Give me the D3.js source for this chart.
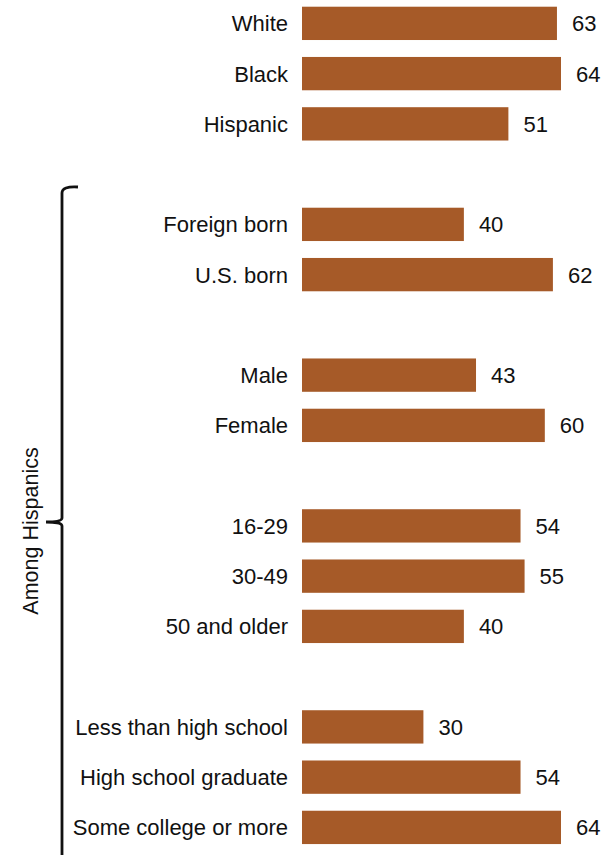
<html>
<head>
<script src="https://cdnjs.cloudflare.com/ajax/libs/d3/7.8.5/d3.min.js"></script>
<style>
  body { margin: 0; background: #fff; }
  text { font-family: "Liberation Sans", Arial, sans-serif; fill: #111; }
</style>
</head>
<body>
<div id="chart"></div>
<script>

// rows, with "" as a blank spacer between groups
var labels = ["White", "Black", "Hispanic", "",
  "Foreign born", "U.S. born", "",
  "Male", "Female", "",
  "16-29", "30-49", "50 and older", "",
  "Less than high school", "High school graduate", "Some college or more"];
var values = [63, 64, 51, null, 40, 62, null, 43, 60, null, 54, 55, 40, null, 30, 54, 64];
var bracketLabel = "Among Hispanics";

var width = 614, height = 855;
var barColor = "#a65a28";
var fontSize = "22px";

var svg = d3.select("#chart").append("svg")
  .attr("width", width)
  .attr("height", height);

var x = d3.scaleLinear()
  .domain([0, 64])
  .range([302, 561]);

var y = d3.scaleBand()
  .domain(d3.range(labels.length))
  .range([-1.84, 852.6])
  .paddingInner(0.337)
  .paddingOuter(0.17);

var rows = labels.map(function(l, i) { return {label: l, value: values[i], i: i}; })
  .filter(function(d) { return d.value != null; });

svg.selectAll("rect.bar")
  .data(rows)
  .enter().append("rect")
  .attr("class", "bar")
  .attr("x", x(0))
  .attr("y", function(d) { return y(d.i); })
  .attr("width", function(d) { return x(d.value) - x(0); })
  .attr("height", y.bandwidth())
  .attr("fill", barColor);

svg.selectAll("text.cat")
  .data(rows)
  .enter().append("text")
  .attr("class", "cat")
  .attr("x", 288)
  .attr("y", function(d) { return y(d.i) + y.bandwidth() / 2; })
  .attr("dy", "0.36em")
  .attr("text-anchor", "end")
  .style("font-size", fontSize)
  .text(function(d) { return d.label; });

svg.selectAll("text.val")
  .data(rows)
  .enter().append("text")
  .attr("class", "val")
  .attr("x", function(d) { return x(d.value) + 15; })
  .attr("y", function(d) { return y(d.i) + y.bandwidth() / 2; })
  .attr("dy", "0.36em")
  .style("font-size", fontSize)
  .text(function(d) { return d.value; });

// curly bracket for the Hispanic subgroups (bottom end runs off the page)
var bx = 62, bTop = 187, bMid = 522, bBot = 875;
var bracket = d3.path();
bracket.moveTo(bx + 16, bTop);
bracket.quadraticCurveTo(bx, bTop - 1, bx, bTop + 6);
bracket.lineTo(bx, bMid - 4);
bracket.quadraticCurveTo(bx, bMid, bx - 16, bMid);
bracket.moveTo(bx - 16, bMid);
bracket.quadraticCurveTo(bx, bMid, bx, bMid + 4);
bracket.lineTo(bx, bBot - 6);
bracket.quadraticCurveTo(bx, bBot + 1, bx + 16, bBot);

svg.append("path")
  .attr("d", bracket.toString())
  .attr("fill", "none")
  .attr("stroke", "#111")
  .attr("stroke-width", 2.8);

svg.append("text")
  .attr("transform", "translate(30,531) rotate(-90)")
  .attr("text-anchor", "middle")
  .attr("dy", "0.35em")
  .style("font-size", "21.5px")
  .text(bracketLabel);

</script>
</body>
</html>
